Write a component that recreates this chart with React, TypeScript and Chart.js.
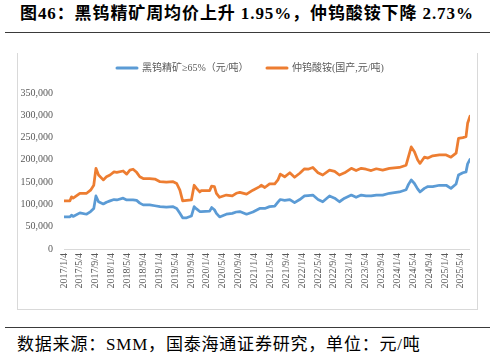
import React, { useEffect, useRef } from "react";
import { Chart, registerables } from "chart.js";

Chart.register(...registerables);

// x position of each reading, in months since 2017/1/4
const months = [
  0, 1.5, 1.9, 2.3, 4.0, 5.7, 6.7, 7.5, 8.05, 8.7,
  9.9, 10.7, 11.6, 12.6, 13.3, 14.9, 15.8, 16.6, 17.4, 18.3,
  19.1, 19.95, 21.6, 22.9, 24.2, 25.8, 27.5, 28.4, 29.2, 29.9,
  30.9, 32.1, 32.8, 33.4, 34.2, 34.6, 36.7, 37.2, 37.9, 38.4,
  39.2, 40.9, 42.4, 43.4, 44.3, 46.0, 47.6, 49.3, 49.7, 50.6,
  51.8, 53.1, 53.9, 54.5, 55.6, 56.9, 58.1, 59.4, 60.6, 61.5,
  62.7, 64.0, 65.2, 66.9, 68.2, 69.4, 70.7, 72.4, 73.6, 74.9,
  76.1, 77.4, 78.7, 80.3, 82.0, 84.5, 86.2, 86.8, 87.5, 88.3,
  89.1, 89.7, 90.8, 91.7, 92.9, 94.6, 96.3, 97.5, 98.8, 99.4,
  100.5, 101.3, 101.7, 102.3,
];

// 黑钨精矿≥65%（元/吨）
const wolframite = [
  72000, 72000, 76000, 73000, 81000, 78000, 84000, 91000, 119000, 106000,
  101000, 105000, 108000, 111000, 110000, 114000, 110000, 110000, 110000, 109000,
  103000, 99000, 99000, 97000, 95000, 94000, 95000, 91000, 80000, 70000,
  70000, 74000, 95000, 90000, 84000, 84000, 85000, 93000, 88000, 80000,
  72000, 78000, 80000, 83000, 84000, 78000, 83000, 91000, 91000, 91000,
  95000, 96000, 105000, 111000, 109000, 111000, 104000, 111000, 119000, 120000,
  121000, 111000, 106000, 119000, 114000, 106000, 114000, 121000, 116000, 121000,
  119000, 119000, 121000, 121000, 125000, 128000, 133000, 145000, 155000, 147000,
  135000, 128000, 136000, 140000, 140000, 143000, 143000, 136000, 146000, 166000,
  171000, 173000, 191000, 201000,
];

// 仲钨酸铵(国产,元/吨)
const apt = [
  108000, 108000, 117000, 114000, 125000, 125000, 132000, 143000, 181000, 166000,
  155000, 162000, 166000, 173000, 172000, 175000, 168000, 177000, 179000, 172000,
  162000, 158000, 158000, 157000, 151000, 150000, 151000, 147000, 132000, 108000,
  109000, 110000, 143000, 136000, 128000, 131000, 131000, 141000, 140000, 125000,
  116000, 121000, 119000, 125000, 127000, 123000, 132000, 140000, 143000, 138000,
  146000, 146000, 155000, 168000, 162000, 171000, 161000, 170000, 180000, 179000,
  183000, 171000, 166000, 177000, 174000, 166000, 171000, 181000, 176000, 181000,
  179000, 176000, 180000, 177000, 181000, 183000, 188000, 207000, 229000, 218000,
  200000, 192000, 206000, 204000, 209000, 211000, 211000, 206000, 215000, 248000,
  250000, 252000, 282000, 298000,
];

const seriesNames = ["黑钨精矿≥65%（元/吨）", "仲钨酸铵(国产,元/吨)"];
const seriesColors = ["#5B9BD5", "#ED7D31"];

const xTickLabels = [
  "2017/1/4", "2017/5/4", "2017/9/4", "2018/1/4", "2018/5/4", "2018/9/4",
  "2019/1/4", "2019/5/4", "2019/9/4", "2020/1/4", "2020/5/4", "2020/9/4",
  "2021/1/4", "2021/5/4", "2021/9/4", "2022/1/4", "2022/5/4", "2022/9/4",
  "2023/1/4", "2023/5/4", "2023/9/4", "2024/1/4", "2024/5/4", "2024/9/4",
  "2025/1/4", "2025/5/4",
];
const xTickMonths = [
  0, 4, 8, 12, 16, 20, 24, 28, 32, 36, 40, 44, 48, 52, 56, 60, 64, 68,
  72, 76, 80, 84, 88, 92, 96, 100,
];
const yTicks = [0, 50000, 100000, 150000, 200000, 250000, 300000, 350000];

const TITLE = "图46：黑钨精矿周均价上升 1.95%，仲钨酸铵下降 2.73%";
const SOURCE = "数据来源：SMM，国泰海通证券研究，单位：元/吨";

const FONT_FAMILY = '"Liberation Serif", "Noto Sans CJK SC", serif';

const legendPlugin = {
  id: "customLegend",
  afterDraw(chart: any) {
    const ctx = chart.ctx;
    ctx.save();
    ctx.font = `10px ${FONT_FAMILY}`;
    const lineW = 22;
    const gap = 4;
    const itemStarts = [98, 248];
    const y = 15;
    ctx.textBaseline = "middle";
    ctx.textAlign = "left";
    chart.data.datasets.forEach((d: any, i: number) => {
      const x = itemStarts[i];
      ctx.strokeStyle = d.borderColor;
      ctx.lineWidth = 3;
      ctx.lineCap = "round";
      ctx.beginPath();
      ctx.moveTo(x + 1, y);
      ctx.lineTo(x + lineW - 1, y);
      ctx.stroke();
      ctx.fillStyle = "#595959";
      ctx.fillText(d.label, x + lineW + gap, y);
    });
    ctx.restore();
  },
};

function TungstenChart() {
  const canvasRef = useRef<HTMLCanvasElement | null>(null);

  useEffect(() => {
    if (!canvasRef.current) return;
    const makeData = (vals: number[]) =>
      months.map((m, i) => ({ x: m, y: vals[i] }));
    const chart = new Chart(canvasRef.current, {
      type: "line",
      data: {
        datasets: [
          {
            label: seriesNames[0],
            data: makeData(wolframite),
            borderColor: seriesColors[0],
            backgroundColor: seriesColors[0],
            borderWidth: 2.75,
            pointRadius: 0,
            tension: 0,
            borderJoinStyle: "round",
            borderCapStyle: "round",
          },
          {
            label: seriesNames[1],
            data: makeData(apt),
            borderColor: seriesColors[1],
            backgroundColor: seriesColors[1],
            borderWidth: 2.75,
            pointRadius: 0,
            tension: 0,
            borderJoinStyle: "round",
            borderCapStyle: "round",
          },
        ],
      },
      options: {
        animation: false,
        responsive: false,
        maintainAspectRatio: false,
        layout: { padding: { top: 40, right: 6, left: 0, bottom: 0 } },
        plugins: {
          legend: { display: false },
          tooltip: { enabled: false },
        },
        scales: {
          x: {
            type: "linear",
            min: 0,
            max: months[months.length - 1],
            grid: { display: false, drawTicks: false },
            border: { display: true, color: "#d9d9d9", width: 1 },
            afterBuildTicks: (scale: any) => {
              scale.ticks = xTickMonths.map((v) => ({ value: v }));
            },
            afterFit: (scale: any) => {
              scale.height = 60;
            },
            ticks: {
              autoSkip: false,
              minRotation: 90,
              maxRotation: 90,
              padding: 4,
              color: "#595959",
              font: { family: FONT_FAMILY, size: 10 },
              callback: (v: any) => {
                const i = xTickMonths.indexOf(Number(v));
                return i >= 0 ? xTickLabels[i] : "";
              },
            },
          },
          y: {
            min: 0,
            max: 350000,
            grid: { display: false, drawTicks: false },
            border: { display: false },
            afterBuildTicks: (scale: any) => {
              scale.ticks = yTicks.map((v) => ({ value: v }));
            },
            afterFit: (scale: any) => {
              scale.width = 46;
            },
            ticks: {
              padding: 11,
              color: "#595959",
              font: { family: FONT_FAMILY, size: 10 },
              callback: (v: any) => Number(v).toLocaleString("en-US"),
            },
          },
        },
      },
      plugins: [legendPlugin],
    });
    return () => chart.destroy();
  }, []);

  return (
    <canvas
      ref={canvasRef}
      width={459}
      height={256}
      style={{ display: "block", width: 459, height: 256 }}
    />
  );
}

export default function App() {
  return (
    <div
      style={{
        position: "fixed",
        left: 0,
        top: 0,
        width: 494,
        height: 359,
        background: "#ffffff",
        overflow: "hidden",
      }}
    >
      <div
        style={{
          position: "absolute",
          left: 20,
          top: 4,
          fontFamily: FONT_FAMILY,
          fontWeight: "bold",
          fontSize: 17,
          lineHeight: "20px",
          letterSpacing: "0.9px",
          color: "#000",
          whiteSpace: "nowrap",
        }}
      >
        {TITLE}
      </div>
      <div
        style={{
          position: "absolute",
          left: 5,
          top: 32,
          width: 485,
          height: 0,
          borderTop: "1.5px solid #3a3a3a",
        }}
      />
      <div
        style={{
          position: "absolute",
          left: 17,
          top: 53,
          width: 459,
          height: 256,
          borderLeft: "1px solid #d9d9d9",
          borderRight: "1px solid #d9d9d9",
          borderBottom: "1px solid #d9d9d9",
        }}
      >
        <TungstenChart />
      </div>
      <div
        style={{
          position: "absolute",
          left: 5,
          top: 327,
          width: 485,
          height: 0,
          borderTop: "1.5px solid #3a3a3a",
        }}
      />
      <div
        style={{
          position: "absolute",
          left: 17,
          top: 335,
          fontFamily: FONT_FAMILY,
          fontSize: 17,
          lineHeight: "20px",
          letterSpacing: "0.8px",
          color: "#000",
          whiteSpace: "nowrap",
        }}
      >
        {SOURCE}
      </div>
    </div>
  );
}
